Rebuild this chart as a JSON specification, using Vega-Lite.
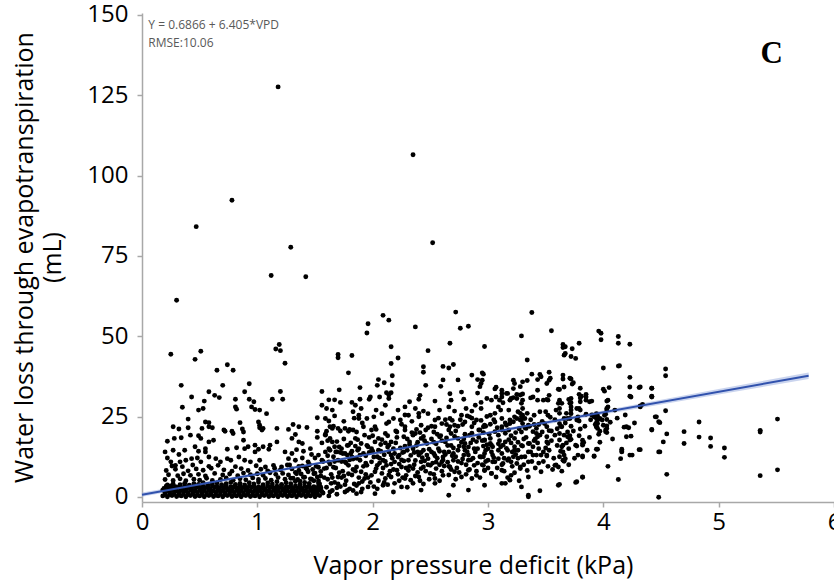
{
  "$schema": "https://vega.github.io/schema/vega-lite/v6.json",
  "width": 692,
  "height": 489,
  "autosize": {"type": "none"},
  "padding": {"left": 142, "top": 13, "right": 0, "bottom": 83},
  "background": "white",
  "config": {
    "view": {"stroke": null},
    "font": "Open Sans",
    "axis": {
      "domainColor": "#a8a8a8", "domainWidth": 1.5,
      "tickColor": "#a8a8a8", "tickWidth": 1.5, "tickSize": 5,
      "grid": false,
      "labelFont": "Open Sans", "labelFontSize": 24, "labelColor": "#000000",
      "labelOverlap": false, "labelFlush": false,
      "titleFont": "Open Sans", "titleFontSize": 25, "titleFontWeight": "normal", "titleColor": "#000000"
    },
    "axisX": {"labelPadding": 3, "titleX": 331, "titleY": 71, "titleAlign": "center", "titleBaseline": "alphabetic"},
    "axisY": {"labelPadding": 9, "titleX": -130, "titleY": 244, "titleAlign": "center", "titleBaseline": "top", "titleAngle": -90, "titleLineHeight": 28}
  },
  "datasets": {
    "band": [
      {"vpd": 0, "lo": 0.05, "hi": 1.32},
      {"vpd": 0.5, "lo": 3.4, "hi": 4.4},
      {"vpd": 1, "lo": 6.65, "hi": 7.53},
      {"vpd": 1.5, "lo": 9.9, "hi": 10.7},
      {"vpd": 2, "lo": 13.1, "hi": 13.9},
      {"vpd": 2.5, "lo": 16.3, "hi": 17.1},
      {"vpd": 3, "lo": 19.45, "hi": 20.35},
      {"vpd": 3.5, "lo": 22.55, "hi": 23.65},
      {"vpd": 4, "lo": 25.6, "hi": 26.9},
      {"vpd": 4.5, "lo": 28.75, "hi": 30.25},
      {"vpd": 5, "lo": 31.85, "hi": 33.6},
      {"vpd": 5.78, "lo": 36.7, "hi": 38.7}
    ],
    "fit": [
      {"vpd": 0, "ml": 0.6866},
      {"vpd": 5.78, "ml": 37.7075}
    ],
    "notes": [
      {"vpd": 0.055, "ml": 146.9, "label": "Y = 0.6866 + 6.405*VPD"},
      {"vpd": 0.055, "ml": 141.3, "label": "RMSE:10.06"}
    ],
    "tag": [
      {"vpd": 5.46, "ml": 137.9, "label": "C"}
    ],
    "pts": [
      {"vpd":1.18,"ml":127.6},{"vpd":2.35,"ml":106.5},{"vpd":0.78,"ml":92.3},{"vpd":0.47,"ml":84.1},{"vpd":1.29,"ml":77.7},{"vpd":2.52,"ml":79.1},{"vpd":0.30,"ml":61.2},{"vpd":1.12,"ml":68.9},{"vpd":1.42,"ml":68.5},
      {"vpd":0.25,"ml":44.4},{"vpd":0.46,"ml":42.8},{"vpd":0.51,"ml":45.3},{"vpd":0.34,"ml":34.7},{"vpd":0.43,"ml":31.1},{"vpd":0.58,"ml":32.7},{"vpd":0.65,"ml":39.4},{"vpd":0.74,"ml":41.1},{"vpd":0.79,"ml":39.4},{"vpd":0.70,"ml":34.7},{"vpd":0.63,"ml":31.6},{"vpd":0.67,"ml":30.9},{"vpd":0.81,"ml":30.4},{"vpd":0.89,"ml":32.7},{"vpd":0.93,"ml":35.2},{"vpd":0.93,"ml":30.4},{"vpd":1.19,"ml":47.4},{"vpd":1.16,"ml":46.0},{"vpd":1.20,"ml":45.5},{"vpd":1.24,"ml":41.6},{"vpd":1.20,"ml":32.8},{"vpd":1.13,"ml":30.4},{"vpd":1.22,"ml":30.4},{"vpd":1.56,"ml":32.8},{"vpd":1.62,"ml":30.2},{"vpd":1.67,"ml":30.2},{"vpd":1.70,"ml":44.3},{"vpd":1.70,"ml":43.3},{"vpd":1.82,"ml":44.0},{"vpd":1.71,"ml":33.3},{"vpd":1.79,"ml":38.6},{"vpd":1.89,"ml":34.0},
      {"vpd":1.95,"ml":51.0},{"vpd":1.96,"ml":53.9},{"vpd":1.97,"ml":30.4},{"vpd":2.05,"ml":36.5},{"vpd":2.04,"ml":34.7},{"vpd":2.10,"ml":35.5},{"vpd":2.06,"ml":31.1},{"vpd":2.09,"ml":56.5},{"vpd":2.14,"ml":55.0},{"vpd":2.16,"ml":46.7},{"vpd":2.22,"ml":43.2},{"vpd":2.16,"ml":41.5},{"vpd":2.17,"ml":37.7},{"vpd":2.17,"ml":34.9},{"vpd":2.12,"ml":32.4},{"vpd":2.16,"ml":32.4},{"vpd":2.14,"ml":31.7},{"vpd":2.37,"ml":52.9},{"vpd":2.48,"ml":45.5},{"vpd":2.44,"ml":40.5},{"vpd":2.44,"ml":38.8},{"vpd":2.46,"ml":34.7},{"vpd":2.41,"ml":31.6},{"vpd":2.61,"ml":40.6},{"vpd":2.66,"ml":40.1},{"vpd":2.70,"ml":41.2},{"vpd":2.67,"ml":47.8},{"vpd":2.72,"ml":57.5},{"vpd":2.76,"ml":52.5},{"vpd":2.83,"ml":53.1},{"vpd":2.61,"ml":36.4},{"vpd":2.59,"ml":34.4},{"vpd":2.67,"ml":32.1},{"vpd":2.74,"ml":36.4},{"vpd":2.86,"ml":37.9},{"vpd":2.91,"ml":36.5},{"vpd":2.77,"ml":32.6},{"vpd":2.91,"ml":32.3},{"vpd":2.97,"ml":46.8},{"vpd":2.95,"ml":38.6},{"vpd":2.95,"ml":36.3},
      {"vpd":3.38,"ml":57.4},{"vpd":3.55,"ml":51.7},{"vpd":3.29,"ml":50.1},{"vpd":3.34,"ml":42.6},{"vpd":3.65,"ml":47.4},{"vpd":3.65,"ml":46.5},{"vpd":3.66,"ml":44.1},{"vpd":3.38,"ml":38.2},{"vpd":3.45,"ml":38.1},{"vpd":3.53,"ml":38.8},{"vpd":3.22,"ml":36.3},{"vpd":3.23,"ml":35.3},{"vpd":3.34,"ml":36.2},{"vpd":3.43,"ml":36.5},{"vpd":3.51,"ml":35.3},{"vpd":3.53,"ml":36.3},{"vpd":3.65,"ml":37.9},{"vpd":3.65,"ml":36.7},{"vpd":3.66,"ml":34.2},{"vpd":3.06,"ml":33.6},{"vpd":3.43,"ml":33.2},{"vpd":3.61,"ml":33.5},{"vpd":3.12,"ml":32.2},{"vpd":3.16,"ml":32.2},{"vpd":3.25,"ml":31.9},{"vpd":3.37,"ml":30.8},{"vpd":3.53,"ml":31.6},
      {"vpd":3.96,"ml":51.6},{"vpd":3.98,"ml":50.9},{"vpd":3.98,"ml":48.9},{"vpd":4.13,"ml":49.9},{"vpd":4.13,"ml":47.8},{"vpd":4.23,"ml":47.5},{"vpd":3.79,"ml":47.8},{"vpd":3.73,"ml":46.1},{"vpd":3.72,"ml":43.7},{"vpd":3.76,"ml":43.1},{"vpd":3.67,"ml":46.7},{"vpd":3.67,"ml":44.6},{"vpd":4.00,"ml":40.1},{"vpd":4.13,"ml":40.7},{"vpd":4.54,"ml":39.8},{"vpd":4.54,"ml":37.7},{"vpd":4.23,"ml":37.2},{"vpd":4.23,"ml":34.2},{"vpd":4.32,"ml":34.2},{"vpd":4.42,"ml":33.8},{"vpd":3.72,"ml":36.7},{"vpd":3.73,"ml":35.1},{"vpd":3.80,"ml":33.8},{"vpd":4.00,"ml":33.5},{"vpd":4.01,"ml":32.9},{"vpd":4.05,"ml":34.0},{"vpd":3.81,"ml":31.3},{"vpd":3.85,"ml":31.9},{"vpd":4.23,"ml":31.3},{"vpd":4.42,"ml":31.3},{"vpd":3.70,"ml":30.3},
      {"vpd":3.71,"ml":36.9},{"vpd":3.74,"ml":35.5},{"vpd":3.62,"ml":33.4},{"vpd":3.30,"ml":35.8},{"vpd":3.28,"ml":34.3},{"vpd":3.22,"ml":33.7},{"vpd":2.96,"ml":38.2},{"vpd":2.94,"ml":35.3},{"vpd":2.93,"ml":34.3},{"vpd":3.07,"ml":34.1},{"vpd":3.12,"ml":33.2},{"vpd":3.17,"ml":32.2},{"vpd":3.28,"ml":31.7},{"vpd":3.30,"ml":32.0},{"vpd":3.07,"ml":31.1},{"vpd":3.39,"ml":31.1},{"vpd":3.79,"ml":31.9},{"vpd":4.31,"ml":34.0},{"vpd":3.54,"ml":36.9},{"vpd":3.46,"ml":37.4},
      {"vpd":0.54,"ml":29.8},{"vpd":0.97,"ml":29.6},{"vpd":1.72,"ml":29.4},{"vpd":1.82,"ml":29.4},{"vpd":1.85,"ml":28.5},{"vpd":0.35,"ml":27.9},{"vpd":0.49,"ml":27.0},{"vpd":0.53,"ml":27.5},{"vpd":0.81,"ml":28.0},{"vpd":0.82,"ml":27.3},{"vpd":0.95,"ml":28.0},{"vpd":0.98,"ml":27.2},{"vpd":1.02,"ml":27.0},{"vpd":1.08,"ml":25.9},{"vpd":1.56,"ml":28.5},{"vpd":1.60,"ml":27.5},{"vpd":1.65,"ml":27.0},{"vpd":1.83,"ml":26.5},{"vpd":1.52,"ml":24.6},{"vpd":1.59,"ml":24.4},{"vpd":1.62,"ml":23.6},{"vpd":1.67,"ml":25.2},{"vpd":1.88,"ml":24.4},{"vpd":0.40,"ml":24.2},{"vpd":0.55,"ml":23.3},{"vpd":0.58,"ml":23.1},{"vpd":0.85,"ml":23.1},{"vpd":1.01,"ml":23.3},{"vpd":1.02,"ml":22.3},{"vpd":1.05,"ml":21.3},{"vpd":1.17,"ml":21.3},{"vpd":1.31,"ml":22.5},{"vpd":1.36,"ml":21.8},{"vpd":1.43,"ml":21.6},{"vpd":1.63,"ml":21.8},{"vpd":1.65,"ml":21.3},
      {"vpd":0.27,"ml":21.8},{"vpd":0.32,"ml":21.1},{"vpd":0.40,"ml":21.5},{"vpd":0.52,"ml":21.3},{"vpd":0.58,"ml":21.8},{"vpd":0.61,"ml":21.5},{"vpd":0.71,"ml":20.8},{"vpd":0.72,"ml":20.4},{"vpd":0.78,"ml":20.4},{"vpd":0.87,"ml":21.1},{"vpd":0.88,"ml":20.2},{"vpd":1.02,"ml":21.5},{"vpd":1.04,"ml":20.8},{"vpd":1.27,"ml":21.0},{"vpd":1.33,"ml":19.4},{"vpd":1.52,"ml":20.4},{"vpd":1.60,"ml":20.4},{"vpd":1.70,"ml":21.3},{"vpd":1.76,"ml":21.3},{"vpd":1.79,"ml":20.4},{"vpd":1.83,"ml":20.8},
      {"vpd":0.22,"ml":17.3},{"vpd":0.28,"ml":18.2},{"vpd":0.34,"ml":18.4},{"vpd":0.42,"ml":19.2},{"vpd":0.49,"ml":19.0},{"vpd":0.51,"ml":18.2},{"vpd":0.58,"ml":17.1},{"vpd":0.62,"ml":17.6},{"vpd":0.79,"ml":19.7},{"vpd":0.88,"ml":17.6},{"vpd":0.92,"ml":15.6},{"vpd":0.98,"ml":16.1},{"vpd":1.05,"ml":15.6},{"vpd":1.11,"ml":16.1},{"vpd":1.17,"ml":17.1},{"vpd":1.30,"ml":18.2},{"vpd":1.36,"ml":17.1},{"vpd":1.39,"ml":16.6},{"vpd":1.59,"ml":19.2},{"vpd":1.63,"ml":18.2},{"vpd":1.65,"ml":17.1},{"vpd":1.67,"ml":15.6},{"vpd":1.73,"ml":15.0},{"vpd":1.79,"ml":16.1},{"vpd":1.85,"ml":18.2},
      {"vpd":0.20,"ml":14.0},{"vpd":0.27,"ml":14.5},{"vpd":0.32,"ml":13.2},{"vpd":0.37,"ml":14.5},{"vpd":0.46,"ml":15.6},{"vpd":0.49,"ml":14.2},{"vpd":0.55,"ml":15.0},{"vpd":0.55,"ml":14.0},{"vpd":0.74,"ml":14.8},{"vpd":0.82,"ml":15.3},{"vpd":0.89,"ml":15.0},{"vpd":0.98,"ml":14.0},{"vpd":1.01,"ml":14.8},{"vpd":1.10,"ml":14.8},{"vpd":1.24,"ml":14.0},{"vpd":1.30,"ml":13.5},{"vpd":1.34,"ml":14.7},{"vpd":1.40,"ml":14.2},{"vpd":1.46,"ml":15.0},{"vpd":1.47,"ml":13.2},{"vpd":1.59,"ml":14.0},{"vpd":1.63,"ml":14.5},{"vpd":1.69,"ml":14.0},{"vpd":1.76,"ml":13.5},{"vpd":1.82,"ml":14.2},{"vpd":1.87,"ml":14.5},
      {"vpd":0.22,"ml":12.1},{"vpd":0.25,"ml":10.9},{"vpd":0.29,"ml":9.8},{"vpd":0.33,"ml":10.9},{"vpd":0.38,"ml":11.4},{"vpd":0.43,"ml":11.9},{"vpd":0.48,"ml":12.1},{"vpd":0.51,"ml":10.9},{"vpd":0.58,"ml":12.4},{"vpd":0.64,"ml":11.9},{"vpd":0.68,"ml":10.9},{"vpd":0.74,"ml":11.9},{"vpd":0.77,"ml":11.4},{"vpd":0.84,"ml":12.4},{"vpd":0.89,"ml":11.4},{"vpd":0.94,"ml":10.9},{"vpd":1.02,"ml":11.4},{"vpd":1.07,"ml":9.3},{"vpd":1.14,"ml":9.8},{"vpd":1.21,"ml":9.3},{"vpd":1.27,"ml":11.9},{"vpd":1.33,"ml":11.4},{"vpd":1.39,"ml":12.1},{"vpd":1.44,"ml":10.9},{"vpd":1.50,"ml":12.1},{"vpd":1.56,"ml":11.4},{"vpd":1.62,"ml":10.9},{"vpd":1.70,"ml":11.4},{"vpd":1.76,"ml":10.9},{"vpd":1.82,"ml":12.4},
      {"vpd":1.89,"ml":30.4},{"vpd":1.98,"ml":31.1},{"vpd":2.14,"ml":30.6},{"vpd":2.32,"ml":29.6},{"vpd":2.40,"ml":30.4},{"vpd":2.54,"ml":29.8},{"vpd":2.68,"ml":30.1},{"vpd":2.79,"ml":30.4},{"vpd":2.89,"ml":28.5},{"vpd":2.94,"ml":29.4},{"vpd":3.12,"ml":31.1},{"vpd":3.20,"ml":30.6},{"vpd":3.29,"ml":29.1},{"vpd":3.52,"ml":30.1},{"vpd":3.61,"ml":29.1},{"vpd":1.90,"ml":27.5},{"vpd":2.03,"ml":27.0},{"vpd":2.11,"ml":28.5},{"vpd":2.22,"ml":27.0},{"vpd":2.28,"ml":28.0},{"vpd":2.37,"ml":27.5},{"vpd":2.44,"ml":26.7},{"vpd":2.58,"ml":27.0},{"vpd":2.66,"ml":28.0},{"vpd":2.71,"ml":26.7},{"vpd":2.81,"ml":27.5},{"vpd":2.86,"ml":26.7},{"vpd":2.94,"ml":27.5},{"vpd":3.09,"ml":28.0},{"vpd":3.18,"ml":27.0},{"vpd":3.26,"ml":26.5},{"vpd":3.30,"ml":27.5},
      {"vpd":1.88,"ml":25.4},{"vpd":1.95,"ml":24.4},{"vpd":2.01,"ml":24.9},{"vpd":2.08,"ml":25.9},{"vpd":2.14,"ml":23.3},{"vpd":2.18,"ml":24.4},{"vpd":2.24,"ml":23.9},{"vpd":2.31,"ml":25.4},{"vpd":2.40,"ml":24.9},{"vpd":2.48,"ml":25.9},{"vpd":2.54,"ml":23.9},{"vpd":2.60,"ml":22.8},{"vpd":2.67,"ml":24.4},{"vpd":2.71,"ml":22.3},{"vpd":2.77,"ml":25.4},{"vpd":2.80,"ml":23.3},{"vpd":2.84,"ml":24.9},{"vpd":2.90,"ml":23.9},{"vpd":2.97,"ml":22.3},{"vpd":3.02,"ml":25.4},{"vpd":3.06,"ml":23.3},{"vpd":3.12,"ml":24.4},{"vpd":3.19,"ml":22.8},{"vpd":3.23,"ml":24.9},{"vpd":3.29,"ml":23.9},{"vpd":3.35,"ml":22.3},{"vpd":3.42,"ml":21.3},{"vpd":3.49,"ml":22.8},{"vpd":3.64,"ml":21.8},{"vpd":3.69,"ml":24.4},{"vpd":1.92,"ml":21.8},{"vpd":2.02,"ml":21.8},{"vpd":2.28,"ml":21.8},{"vpd":2.42,"ml":22.3},{"vpd":2.54,"ml":21.8},{"vpd":2.86,"ml":21.8},{"vpd":3.12,"ml":21.8},
      {"vpd":1.86,"ml":20.2},{"vpd":1.93,"ml":19.2},{"vpd":1.99,"ml":20.8},{"vpd":2.05,"ml":18.2},{"vpd":2.11,"ml":19.7},{"vpd":2.16,"ml":17.1},{"vpd":2.21,"ml":20.2},{"vpd":2.27,"ml":18.7},{"vpd":2.32,"ml":17.1},{"vpd":2.37,"ml":19.7},{"vpd":2.42,"ml":18.2},{"vpd":2.47,"ml":16.6},{"vpd":2.53,"ml":20.2},{"vpd":2.58,"ml":18.7},{"vpd":2.63,"ml":17.1},{"vpd":2.68,"ml":19.7},{"vpd":2.74,"ml":18.2},{"vpd":2.80,"ml":16.6},{"vpd":2.84,"ml":19.2},{"vpd":2.92,"ml":20.8},{"vpd":2.97,"ml":17.6},{"vpd":3.03,"ml":16.1},{"vpd":3.09,"ml":19.2},{"vpd":3.15,"ml":17.1},{"vpd":3.23,"ml":18.2},{"vpd":3.29,"ml":20.2},{"vpd":3.36,"ml":16.6},{"vpd":3.43,"ml":18.7},{"vpd":3.51,"ml":17.1},{"vpd":3.58,"ml":19.2},{"vpd":3.65,"ml":16.1},{"vpd":3.69,"ml":20.2},{"vpd":1.90,"ml":16.6},{"vpd":2.02,"ml":17.1},{"vpd":2.14,"ml":16.1},{"vpd":2.28,"ml":20.8},{"vpd":2.66,"ml":20.8},{"vpd":3.18,"ml":20.8},
      {"vpd":1.88,"ml":15.0},{"vpd":1.92,"ml":13.5},{"vpd":1.96,"ml":15.6},{"vpd":2.01,"ml":12.4},{"vpd":2.05,"ml":14.5},{"vpd":2.09,"ml":11.4},{"vpd":2.14,"ml":14.0},{"vpd":2.18,"ml":15.0},{"vpd":2.22,"ml":12.4},{"vpd":2.27,"ml":14.0},{"vpd":2.31,"ml":11.4},{"vpd":2.35,"ml":15.0},{"vpd":2.40,"ml":13.0},{"vpd":2.44,"ml":14.5},{"vpd":2.48,"ml":11.9},{"vpd":2.53,"ml":13.5},{"vpd":2.57,"ml":15.0},{"vpd":2.61,"ml":12.4},{"vpd":2.66,"ml":14.0},{"vpd":2.70,"ml":11.4},{"vpd":2.74,"ml":14.5},{"vpd":2.79,"ml":13.0},{"vpd":2.83,"ml":11.4},{"vpd":2.89,"ml":14.0},{"vpd":2.94,"ml":12.4},{"vpd":3.00,"ml":15.0},{"vpd":3.06,"ml":10.9},{"vpd":3.12,"ml":13.5},{"vpd":3.18,"ml":11.9},{"vpd":3.23,"ml":14.5},{"vpd":3.29,"ml":12.4},{"vpd":3.35,"ml":10.9},{"vpd":3.42,"ml":13.0},{"vpd":3.51,"ml":13.0},{"vpd":3.58,"ml":9.8},{"vpd":3.67,"ml":11.9},{"vpd":1.89,"ml":11.4},{"vpd":1.99,"ml":10.9},{"vpd":2.19,"ml":10.9},{"vpd":2.42,"ml":10.9},{"vpd":2.60,"ml":10.9},{"vpd":2.80,"ml":14.5},{"vpd":2.97,"ml":13.5},{"vpd":3.20,"ml":10.9},
      {"vpd":1.86,"ml":9.3},{"vpd":1.90,"ml":7.8},{"vpd":1.95,"ml":9.8},{"vpd":1.99,"ml":6.7},{"vpd":2.03,"ml":8.8},{"vpd":2.08,"ml":7.3},{"vpd":2.12,"ml":9.8},{"vpd":2.16,"ml":6.2},{"vpd":2.21,"ml":8.3},{"vpd":2.25,"ml":9.3},{"vpd":2.29,"ml":6.7},{"vpd":2.35,"ml":8.8},{"vpd":2.40,"ml":6.2},{"vpd":2.44,"ml":9.3},{"vpd":2.50,"ml":7.3},{"vpd":2.55,"ml":8.8},{"vpd":2.61,"ml":6.7},{"vpd":2.67,"ml":9.3},{"vpd":2.71,"ml":7.8},{"vpd":2.77,"ml":6.2},{"vpd":2.83,"ml":8.3},{"vpd":2.90,"ml":6.7},{"vpd":2.96,"ml":9.8},{"vpd":3.03,"ml":7.3},{"vpd":3.12,"ml":8.3},{"vpd":3.20,"ml":6.7},{"vpd":3.28,"ml":9.3},{"vpd":3.35,"ml":6.2},{"vpd":3.46,"ml":7.8},{"vpd":3.61,"ml":9.3},{"vpd":1.93,"ml":5.7},{"vpd":2.11,"ml":5.7},{"vpd":2.28,"ml":5.7},{"vpd":2.54,"ml":5.7},{"vpd":2.86,"ml":5.7},
      {"vpd":1.88,"ml":4.2},{"vpd":1.96,"ml":3.1},{"vpd":2.02,"ml":1.0},{"vpd":2.09,"ml":3.6},{"vpd":2.25,"ml":3.1},{"vpd":2.35,"ml":4.2},{"vpd":2.42,"ml":2.1},{"vpd":2.54,"ml":4.2},{"vpd":2.70,"ml":3.6},{"vpd":2.83,"ml":2.1},{"vpd":2.97,"ml":3.6},{"vpd":3.12,"ml":4.2},{"vpd":3.35,"ml":0.5},{"vpd":3.61,"ml":3.6},{"vpd":1.90,"ml":1.5},{"vpd":2.18,"ml":1.5},{"vpd":2.66,"ml":0.5},
      {"vpd":1.87,"ml":17.8},{"vpd":1.91,"ml":23.0},{"vpd":1.94,"ml":12.8},{"vpd":1.97,"ml":18.5},{"vpd":2.00,"ml":14.2},{"vpd":2.03,"ml":21.0},{"vpd":2.06,"ml":10.5},{"vpd":2.07,"ml":16.3},{"vpd":2.10,"ml":13.1},{"vpd":2.13,"ml":19.0},{"vpd":2.15,"ml":8.0},{"vpd":2.17,"ml":12.0},{"vpd":2.20,"ml":16.8},{"vpd":2.23,"ml":10.2},{"vpd":2.25,"ml":22.6},{"vpd":2.26,"ml":13.8},{"vpd":2.29,"ml":9.0},{"vpd":2.30,"ml":18.0},{"vpd":2.33,"ml":12.9},{"vpd":2.34,"ml":23.5},{"vpd":2.36,"ml":10.0},{"vpd":2.38,"ml":16.0},{"vpd":2.39,"ml":7.6},{"vpd":2.41,"ml":20.0},{"vpd":2.43,"ml":12.2},{"vpd":2.45,"ml":17.5},{"vpd":2.46,"ml":8.0},{"vpd":2.49,"ml":14.8},{"vpd":2.51,"ml":22.0},{"vpd":2.52,"ml":10.5},{"vpd":2.55,"ml":16.5},{"vpd":2.56,"ml":12.0},{"vpd":2.59,"ml":19.0},{"vpd":2.60,"ml":8.0},{"vpd":2.62,"ml":14.0},{"vpd":2.64,"ml":22.5},{"vpd":2.65,"ml":10.8},{"vpd":2.68,"ml":16.0},{"vpd":2.69,"ml":12.8},{"vpd":2.72,"ml":20.5},{"vpd":2.73,"ml":9.0},{"vpd":2.75,"ml":15.8},{"vpd":2.76,"ml":24.0},{"vpd":2.78,"ml":11.8},{"vpd":2.80,"ml":19.5},{"vpd":2.82,"ml":14.0},{"vpd":2.84,"ml":8.5},{"vpd":2.85,"ml":16.8},{"vpd":2.87,"ml":12.0},{"vpd":2.88,"ml":23.0},{"vpd":2.91,"ml":15.0},{"vpd":2.92,"ml":18.5},{"vpd":2.95,"ml":10.0},{"vpd":2.96,"ml":20.0},{"vpd":2.98,"ml":14.5},{"vpd":2.99,"ml":25.0},
      {"vpd":1.86,"ml":12.0},{"vpd":1.88,"ml":6.0},{"vpd":1.92,"ml":9.5},{"vpd":1.95,"ml":16.0},{"vpd":1.98,"ml":4.5},{"vpd":2.00,"ml":19.0},{"vpd":2.04,"ml":12.5},{"vpd":2.05,"ml":5.0},{"vpd":2.08,"ml":17.8},{"vpd":2.11,"ml":11.0},{"vpd":2.12,"ml":22.8},{"vpd":2.14,"ml":6.8},{"vpd":2.19,"ml":13.5},{"vpd":2.20,"ml":20.5},{"vpd":2.22,"ml":7.0},{"vpd":2.24,"ml":15.2},{"vpd":2.27,"ml":11.2},{"vpd":2.28,"ml":25.5},{"vpd":2.31,"ml":8.2},{"vpd":2.32,"ml":16.2},{"vpd":2.35,"ml":19.2},{"vpd":2.37,"ml":11.3},{"vpd":2.39,"ml":14.0},{"vpd":2.40,"ml":26.0},{"vpd":2.42,"ml":8.8},{"vpd":2.44,"ml":18.8},{"vpd":2.47,"ml":13.0},{"vpd":2.48,"ml":21.5},{"vpd":2.50,"ml":9.8},{"vpd":2.53,"ml":17.0},{"vpd":2.54,"ml":12.8},{"vpd":2.57,"ml":24.5},{"vpd":2.58,"ml":10.0},{"vpd":2.60,"ml":17.5},{"vpd":2.63,"ml":13.2},{"vpd":2.66,"ml":9.5},{"vpd":2.67,"ml":21.8},{"vpd":2.70,"ml":15.2},{"vpd":2.71,"ml":18.8},{"vpd":2.74,"ml":11.0},{"vpd":2.77,"ml":17.0},{"vpd":2.78,"ml":22.5},{"vpd":2.81,"ml":10.0},{"vpd":2.83,"ml":15.5},{"vpd":2.86,"ml":19.8},{"vpd":2.88,"ml":9.8},{"vpd":2.90,"ml":17.2},{"vpd":2.93,"ml":12.5},{"vpd":2.94,"ml":23.8},{"vpd":2.97,"ml":8.2},{"vpd":2.99,"ml":16.2},
      {"vpd":1.61,"ml":17.5},{"vpd":1.64,"ml":4.2},{"vpd":1.66,"ml":9.2},{"vpd":1.69,"ml":2.8},{"vpd":1.71,"ml":7.5},{"vpd":1.74,"ml":13.5},{"vpd":1.76,"ml":3.8},{"vpd":1.79,"ml":7.2},{"vpd":1.83,"ml":2.0},{"vpd":1.85,"ml":15.8},{"vpd":1.91,"ml":4.8},{"vpd":1.94,"ml":7.0},{"vpd":1.97,"ml":13.8},{"vpd":2.01,"ml":3.2},{"vpd":2.04,"ml":9.8},{"vpd":2.07,"ml":14.2},{"vpd":2.10,"ml":4.5},{"vpd":2.13,"ml":15.5},{"vpd":2.16,"ml":10.2},{"vpd":2.19,"ml":4.2},{"vpd":2.23,"ml":13.0},{"vpd":2.26,"ml":6.0},{"vpd":2.30,"ml":14.5},{"vpd":2.33,"ml":5.2},{"vpd":2.36,"ml":13.8},{"vpd":2.38,"ml":21.0},{"vpd":2.41,"ml":5.0},{"vpd":2.45,"ml":11.2},{"vpd":2.49,"ml":5.5},{"vpd":2.51,"ml":18.0},{"vpd":2.55,"ml":10.8},{"vpd":2.58,"ml":14.2},{"vpd":2.62,"ml":9.6},{"vpd":2.64,"ml":18.3},{"vpd":2.66,"ml":6.8},{"vpd":2.69,"ml":23.8},{"vpd":2.72,"ml":12.5},{"vpd":2.75,"ml":7.6},{"vpd":2.79,"ml":15.6},{"vpd":2.82,"ml":25.2},{"vpd":2.85,"ml":11.5},{"vpd":2.87,"ml":17.8},{"vpd":2.90,"ml":8.0},{"vpd":2.93,"ml":20.8},{"vpd":2.96,"ml":15.8},{"vpd":2.98,"ml":11.0},{"vpd":3.02,"ml":18.2},{"vpd":3.05,"ml":12.2},{"vpd":3.08,"ml":21.5},{"vpd":3.11,"ml":15.6},{"vpd":3.14,"ml":8.0},{"vpd":3.18,"ml":17.8},{"vpd":3.21,"ml":9.5},{"vpd":3.24,"ml":13.2},{"vpd":3.27,"ml":21.2},{"vpd":3.31,"ml":18.0},{"vpd":3.34,"ml":8.2},{"vpd":3.37,"ml":24.0},{"vpd":3.40,"ml":17.5},{"vpd":3.44,"ml":10.5},{"vpd":3.47,"ml":20.2},{"vpd":3.50,"ml":15.2},{"vpd":3.54,"ml":24.8},{"vpd":3.57,"ml":12.0},{"vpd":3.60,"ml":21.2},{"vpd":3.63,"ml":14.2},{"vpd":3.67,"ml":23.0},{"vpd":3.70,"ml":15.0},{"vpd":3.74,"ml":20.5},{"vpd":3.78,"ml":13.0},{"vpd":3.84,"ml":22.0},{"vpd":3.88,"ml":18.5},{"vpd":3.90,"ml":25.5},{"vpd":3.97,"ml":17.0},{"vpd":4.06,"ml":23.2},{"vpd":4.10,"ml":27.0},
      {"vpd":1.52,"ml":18.5},{"vpd":1.55,"ml":3.0},{"vpd":1.58,"ml":6.0},{"vpd":1.60,"ml":9.0},{"vpd":1.63,"ml":1.5},{"vpd":1.67,"ml":11.0},{"vpd":1.70,"ml":4.0},{"vpd":1.72,"ml":13.8},{"vpd":1.75,"ml":6.5},{"vpd":1.78,"ml":2.0},{"vpd":1.80,"ml":11.5},{"vpd":1.83,"ml":8.5},{"vpd":1.86,"ml":3.5},{"vpd":1.89,"ml":13.0},{"vpd":1.91,"ml":2.5},{"vpd":1.94,"ml":10.5},{"vpd":1.96,"ml":6.0},{"vpd":1.99,"ml":15.0},{"vpd":2.02,"ml":7.8},{"vpd":2.04,"ml":2.5},{"vpd":2.06,"ml":12.0},{"vpd":2.09,"ml":9.0},{"vpd":2.11,"ml":16.8},{"vpd":2.13,"ml":3.8},{"vpd":2.16,"ml":13.0},{"vpd":2.18,"ml":8.5},{"vpd":2.21,"ml":18.5},{"vpd":2.23,"ml":5.0},{"vpd":2.25,"ml":11.5},{"vpd":2.28,"ml":15.8},{"vpd":2.30,"ml":3.0},{"vpd":2.32,"ml":9.5},{"vpd":2.34,"ml":20.0},{"vpd":2.37,"ml":6.5},{"vpd":2.39,"ml":17.0},{"vpd":2.42,"ml":13.8},{"vpd":2.44,"ml":4.0},{"vpd":2.46,"ml":20.8},{"vpd":2.48,"ml":10.0},{"vpd":2.51,"ml":14.0},{"vpd":2.53,"ml":7.0},{"vpd":2.56,"ml":19.5},{"vpd":2.58,"ml":5.0},{"vpd":2.61,"ml":11.5},{"vpd":2.63,"ml":24.0},{"vpd":2.65,"ml":16.0},{"vpd":2.68,"ml":8.5},{"vpd":2.70,"ml":13.5},{"vpd":2.72,"ml":5.5},{"vpd":2.74,"ml":22.0},{"vpd":2.77,"ml":10.5},{"vpd":2.79,"ml":18.0},{"vpd":2.81,"ml":7.0},{"vpd":2.83,"ml":13.0},{"vpd":2.86,"ml":24.5},{"vpd":2.88,"ml":15.0},{"vpd":2.91,"ml":10.5},{"vpd":2.93,"ml":6.0},{"vpd":2.95,"ml":17.5},{"vpd":2.98,"ml":22.0},{"vpd":3.00,"ml":9.0},{"vpd":3.03,"ml":14.0},{"vpd":3.06,"ml":26.0},{"vpd":3.09,"ml":16.5},{"vpd":3.12,"ml":10.0},{"vpd":3.15,"ml":23.0},{"vpd":3.17,"ml":14.5},{"vpd":3.20,"ml":19.0},{"vpd":3.23,"ml":7.5},{"vpd":3.26,"ml":12.0},{"vpd":3.29,"ml":16.0},{"vpd":3.32,"ml":21.5},{"vpd":3.35,"ml":14.0},{"vpd":3.38,"ml":11.0},{"vpd":3.41,"ml":18.0},{"vpd":3.44,"ml":22.5},{"vpd":3.48,"ml":14.0},{"vpd":3.52,"ml":9.5},{"vpd":3.55,"ml":17.5},{"vpd":3.59,"ml":27.0},{"vpd":3.62,"ml":22.8},{"vpd":3.64,"ml":8.0},{"vpd":3.68,"ml":16.8},{"vpd":3.72,"ml":22.0},{"vpd":3.75,"ml":12.0},{"vpd":3.79,"ml":19.0},{"vpd":3.86,"ml":14.5},{"vpd":3.89,"ml":24.0},{"vpd":3.96,"ml":19.5},{"vpd":4.08,"ml":18.0},{"vpd":4.12,"ml":24.5},{"vpd":4.19,"ml":25.5},{"vpd":4.27,"ml":23.0},
      {"vpd":1.50,"ml":0.5},{"vpd":1.52,"ml":2.2},{"vpd":1.54,"ml":4.0},{"vpd":1.55,"ml":6.5},{"vpd":1.57,"ml":1.2},{"vpd":1.58,"ml":8.8},{"vpd":1.60,"ml":3.0},{"vpd":1.61,"ml":5.5},{"vpd":1.62,"ml":0.3},{"vpd":1.63,"ml":10.2},{"vpd":1.64,"ml":7.0},{"vpd":1.65,"ml":2.0},{"vpd":1.66,"ml":12.5},{"vpd":1.67,"ml":4.5},{"vpd":1.68,"ml":9.0},{"vpd":1.69,"ml":0.8},{"vpd":1.70,"ml":6.2},{"vpd":1.71,"ml":15.5},{"vpd":1.72,"ml":3.2},{"vpd":1.73,"ml":11.0},{"vpd":1.74,"ml":8.0},{"vpd":1.75,"ml":18.0},{"vpd":1.76,"ml":1.5},{"vpd":1.77,"ml":5.0},{"vpd":1.78,"ml":13.0},{"vpd":1.79,"ml":9.8},{"vpd":1.80,"ml":2.5},{"vpd":1.81,"ml":16.8},{"vpd":1.82,"ml":6.8},{"vpd":1.83,"ml":11.8},{"vpd":1.84,"ml":4.0},{"vpd":1.85,"ml":8.0},{"vpd":1.86,"ml":1.0},{"vpd":1.53,"ml":13.0},{"vpd":1.56,"ml":16.8},{"vpd":1.59,"ml":19.5},{"vpd":1.62,"ml":15.0},{"vpd":1.66,"ml":22.0},{"vpd":1.69,"ml":17.2},{"vpd":1.72,"ml":20.5},{"vpd":1.75,"ml":23.5},{"vpd":1.78,"ml":16.0},{"vpd":1.80,"ml":21.0},{"vpd":1.84,"ml":24.5},{"vpd":1.51,"ml":9.5},{"vpd":1.57,"ml":11.0},{"vpd":1.61,"ml":12.8},{"vpd":1.65,"ml":6.0},{"vpd":1.68,"ml":14.0},{"vpd":1.73,"ml":6.0},{"vpd":1.77,"ml":10.5},{"vpd":1.81,"ml":13.5},
      {"vpd":3.01,"ml":19.5},{"vpd":3.04,"ml":13.0},{"vpd":3.05,"ml":24.0},{"vpd":3.08,"ml":9.0},{"vpd":3.10,"ml":17.5},{"vpd":3.11,"ml":27.0},{"vpd":3.14,"ml":12.0},{"vpd":3.15,"ml":19.8},{"vpd":3.17,"ml":6.0},{"vpd":3.21,"ml":14.0},{"vpd":3.24,"ml":20.0},{"vpd":3.26,"ml":17.0},{"vpd":3.27,"ml":5.0},{"vpd":3.31,"ml":10.0},{"vpd":3.33,"ml":18.5},{"vpd":3.34,"ml":26.0},{"vpd":3.37,"ml":14.0},{"vpd":3.40,"ml":22.5},{"vpd":3.41,"ml":9.0},{"vpd":3.44,"ml":15.0},{"vpd":3.47,"ml":23.5},{"vpd":3.48,"ml":11.0},{"vpd":3.50,"ml":26.5},{"vpd":3.53,"ml":14.5},{"vpd":3.55,"ml":20.5},{"vpd":3.56,"ml":8.5},{"vpd":3.58,"ml":24.0},{"vpd":3.60,"ml":16.0},{"vpd":3.63,"ml":22.0},{"vpd":3.66,"ml":13.0},{"vpd":3.68,"ml":26.0},{"vpd":3.70,"ml":10.0},
      {"vpd":2.96,"ml":21.8},{"vpd":3.02,"ml":22.6},{"vpd":3.06,"ml":20.3},{"vpd":3.12,"ml":20.8},{"vpd":3.16,"ml":22.3},{"vpd":3.19,"ml":23.9},{"vpd":3.22,"ml":23.4},{"vpd":3.25,"ml":24.4},{"vpd":3.28,"ml":23.9},{"vpd":3.29,"ml":24.9},{"vpd":3.30,"ml":22.8},{"vpd":3.33,"ml":21.3},{"vpd":3.36,"ml":22.0},{"vpd":2.97,"ml":17.7},{"vpd":3.02,"ml":16.6},{"vpd":3.04,"ml":15.6},{"vpd":3.09,"ml":14.5},{"vpd":3.13,"ml":16.1},{"vpd":3.16,"ml":15.1},{"vpd":3.20,"ml":16.8},{"vpd":3.23,"ml":15.6},{"vpd":3.26,"ml":14.5},{"vpd":3.30,"ml":15.8},{"vpd":3.35,"ml":16.6},{"vpd":3.39,"ml":15.6},{"vpd":3.43,"ml":16.8},{"vpd":2.96,"ml":12.5},{"vpd":3.00,"ml":11.4},{"vpd":3.04,"ml":10.9},{"vpd":3.09,"ml":11.9},{"vpd":3.13,"ml":10.4},{"vpd":3.17,"ml":11.4},{"vpd":3.22,"ml":12.5},{"vpd":3.25,"ml":10.4},{"vpd":3.28,"ml":8.8},{"vpd":3.32,"ml":12.5},{"vpd":3.39,"ml":13.0},{"vpd":3.46,"ml":13.0},{"vpd":3.51,"ml":12.7},{"vpd":2.97,"ml":8.3},{"vpd":3.03,"ml":7.3},{"vpd":3.07,"ml":6.2},{"vpd":3.15,"ml":4.2},{"vpd":3.19,"ml":5.2},{"vpd":3.29,"ml":3.1},{"vpd":3.35,"ml":0.0},{"vpd":3.45,"ml":1.9},{"vpd":3.62,"ml":3.9},{"vpd":3.77,"ml":4.7},{"vpd":3.82,"ml":6.2},
      {"vpd":3.51,"ml":18.7},{"vpd":3.52,"ml":16.6},{"vpd":3.62,"ml":19.7},{"vpd":3.62,"ml":17.7},{"vpd":3.64,"ml":15.6},{"vpd":3.65,"ml":14.0},{"vpd":3.62,"ml":12.5},{"vpd":3.65,"ml":11.4},{"vpd":3.59,"ml":9.9},{"vpd":3.69,"ml":18.7},{"vpd":3.71,"ml":17.7},{"vpd":3.77,"ml":15.8},{"vpd":3.82,"ml":16.6},{"vpd":3.82,"ml":12.7},{"vpd":3.92,"ml":12.7},{"vpd":3.94,"ml":14.8},{"vpd":3.94,"ml":21.8},{"vpd":3.95,"ml":22.8},{"vpd":4.03,"ml":21.3},{"vpd":4.02,"ml":20.3},{"vpd":3.99,"ml":23.9},{"vpd":3.51,"ml":21.8},{"vpd":3.53,"ml":20.6},{"vpd":3.45,"ml":19.2},{"vpd":3.42,"ml":19.7},{"vpd":3.39,"ml":20.3},
      {"vpd":2.99,"ml":30.6},{"vpd":3.03,"ml":30.1},{"vpd":3.10,"ml":30.1},{"vpd":3.13,"ml":29.3},{"vpd":3.19,"ml":30.1},{"vpd":3.22,"ml":30.9},{"vpd":3.25,"ml":30.6},{"vpd":3.30,"ml":30.1},{"vpd":3.43,"ml":30.1},{"vpd":3.48,"ml":30.1},{"vpd":3.51,"ml":30.3},{"vpd":3.28,"ml":26.0},{"vpd":3.30,"ml":25.4},{"vpd":3.32,"ml":24.4},{"vpd":3.40,"ml":25.4},{"vpd":3.45,"ml":26.5},
      {"vpd":3.62,"ml":30.1},{"vpd":3.64,"ml":29.1},{"vpd":3.62,"ml":27.5},{"vpd":3.71,"ml":29.1},{"vpd":3.72,"ml":28.0},{"vpd":3.77,"ml":27.5},{"vpd":3.80,"ml":27.0},{"vpd":3.85,"ml":30.1},{"vpd":3.88,"ml":29.6},{"vpd":3.52,"ml":25.4},{"vpd":3.62,"ml":26.0},{"vpd":3.71,"ml":24.4},{"vpd":3.78,"ml":24.9},{"vpd":3.91,"ml":25.4},{"vpd":3.92,"ml":24.9},{"vpd":3.95,"ml":23.9},{"vpd":3.97,"ml":24.4},{"vpd":4.01,"ml":25.4},{"vpd":4.03,"ml":24.1},{"vpd":4.00,"ml":22.3},{"vpd":4.02,"ml":20.8},{"vpd":4.04,"ml":28.0},{"vpd":4.04,"ml":30.1},{"vpd":4.20,"ml":21.8},{"vpd":4.20,"ml":18.7},{"vpd":4.32,"ml":28.3},{"vpd":4.42,"ml":33.8},{"vpd":4.42,"ml":31.2},{"vpd":4.45,"ml":24.9},{"vpd":4.48,"ml":23.4},{"vpd":4.42,"ml":21.0},{"vpd":4.52,"ml":17.1},{"vpd":4.49,"ml":14.0},{"vpd":4.23,"ml":13.0},{"vpd":4.16,"ml":14.3},{"vpd":4.31,"ml":14.7},{"vpd":4.14,"ml":40.8},
      {"vpd":3.72,"ml":30.6},{"vpd":3.72,"ml":29.3},{"vpd":3.80,"ml":30.8},{"vpd":3.80,"ml":29.6},{"vpd":3.85,"ml":31.1},{"vpd":3.90,"ml":29.8},{"vpd":4.03,"ml":29.8},{"vpd":4.24,"ml":31.1},{"vpd":4.42,"ml":31.1},{"vpd":3.72,"ml":27.0},{"vpd":3.72,"ml":25.9},{"vpd":3.79,"ml":27.5},{"vpd":3.85,"ml":25.7},{"vpd":3.94,"ml":25.9},{"vpd":3.95,"ml":25.2},{"vpd":4.03,"ml":27.5},{"vpd":4.02,"ml":25.7},{"vpd":4.03,"ml":27.0},{"vpd":4.32,"ml":28.0},{"vpd":4.34,"ml":28.8},{"vpd":4.46,"ml":24.9},{"vpd":4.49,"ml":23.1},{"vpd":4.54,"ml":26.8},{"vpd":3.66,"ml":24.4},{"vpd":3.77,"ml":23.9},{"vpd":3.79,"ml":23.6},{"vpd":3.94,"ml":24.4},{"vpd":3.94,"ml":23.1},{"vpd":3.95,"ml":21.3},{"vpd":3.97,"ml":20.4},{"vpd":4.03,"ml":22.1},{"vpd":4.03,"ml":20.0},{"vpd":3.94,"ml":21.8},{"vpd":3.93,"ml":22.5},{"vpd":3.80,"ml":21.1},{"vpd":4.18,"ml":21.7},{"vpd":4.22,"ml":21.5},{"vpd":4.24,"ml":18.9},{"vpd":4.42,"ml":20.8},{"vpd":4.55,"ml":19.6},{"vpd":3.66,"ml":19.2},{"vpd":3.71,"ml":19.0},{"vpd":3.72,"ml":17.9},{"vpd":3.76,"ml":16.1},{"vpd":3.82,"ml":17.6},{"vpd":3.82,"ml":16.1},{"vpd":3.83,"ml":16.9},{"vpd":3.95,"ml":14.8},{"vpd":3.92,"ml":12.6},{"vpd":3.82,"ml":12.4},{"vpd":4.16,"ml":14.8},{"vpd":4.16,"ml":14.0},{"vpd":4.15,"ml":11.9},{"vpd":4.25,"ml":13.0},{"vpd":4.32,"ml":14.7},{"vpd":4.48,"ml":14.0},{"vpd":4.04,"ml":9.5},{"vpd":3.66,"ml":11.1},{"vpd":4.55,"ml":7.0},{"vpd":4.13,"ml":5.4},{"vpd":3.82,"ml":6.1},{"vpd":3.76,"ml":4.5},{"vpd":4.48,"ml":-0.1},
      {"vpd":4.70,"ml":20.3},{"vpd":4.70,"ml":16.6},{"vpd":4.83,"ml":23.3},{"vpd":4.83,"ml":18.6},{"vpd":4.93,"ml":18.3},{"vpd":4.93,"ml":15.7},{"vpd":5.05,"ml":15.2},{"vpd":5.05,"ml":12.3},{"vpd":5.36,"ml":20.7},{"vpd":5.36,"ml":20.2},{"vpd":5.51,"ml":24.2},{"vpd":5.51,"ml":8.4},{"vpd":5.36,"ml":6.6},
      {"vpd":0.18,"ml":0.3},{"vpd":0.22,"ml":0.0},{"vpd":0.26,"ml":0.4},{"vpd":0.30,"ml":0.1},{"vpd":0.34,"ml":0.3},{"vpd":0.38,"ml":0.0},{"vpd":0.42,"ml":0.4},{"vpd":0.46,"ml":0.1},{"vpd":0.50,"ml":0.3},{"vpd":0.54,"ml":0.0},{"vpd":0.58,"ml":0.4},{"vpd":0.62,"ml":0.1},{"vpd":0.66,"ml":0.3},{"vpd":0.70,"ml":0.0},{"vpd":0.74,"ml":0.4},{"vpd":0.78,"ml":0.1},{"vpd":0.82,"ml":0.3},{"vpd":0.86,"ml":0.0},{"vpd":0.90,"ml":0.4},{"vpd":0.94,"ml":0.1},{"vpd":0.98,"ml":0.3},{"vpd":1.02,"ml":0.0},{"vpd":1.06,"ml":0.4},{"vpd":1.10,"ml":0.1},{"vpd":1.14,"ml":0.3},{"vpd":1.18,"ml":0.0},{"vpd":1.22,"ml":0.4},{"vpd":1.26,"ml":0.1},{"vpd":1.30,"ml":0.3},{"vpd":1.34,"ml":0.0},{"vpd":1.38,"ml":0.4},{"vpd":1.42,"ml":0.1},{"vpd":1.46,"ml":0.3},{"vpd":1.50,"ml":0.0},{"vpd":1.54,"ml":0.4},
      {"vpd":0.20,"ml":0.8},{"vpd":0.24,"ml":0.7},{"vpd":0.28,"ml":0.9},{"vpd":0.32,"ml":0.6},{"vpd":0.36,"ml":0.8},{"vpd":0.40,"ml":0.7},{"vpd":0.44,"ml":0.9},{"vpd":0.48,"ml":0.6},{"vpd":0.52,"ml":0.8},{"vpd":0.56,"ml":0.7},{"vpd":0.60,"ml":0.9},{"vpd":0.64,"ml":0.6},{"vpd":0.68,"ml":0.8},{"vpd":0.72,"ml":0.7},{"vpd":0.76,"ml":0.9},{"vpd":0.80,"ml":0.6},{"vpd":0.84,"ml":0.8},{"vpd":0.88,"ml":0.7},{"vpd":0.92,"ml":0.9},{"vpd":0.96,"ml":0.6},{"vpd":1.00,"ml":0.8},{"vpd":1.04,"ml":0.7},{"vpd":1.08,"ml":0.9},{"vpd":1.12,"ml":0.6},{"vpd":1.16,"ml":0.8},{"vpd":1.20,"ml":0.7},{"vpd":1.24,"ml":0.9},{"vpd":1.28,"ml":0.6},{"vpd":1.32,"ml":0.8},{"vpd":1.36,"ml":0.7},{"vpd":1.40,"ml":0.9},{"vpd":1.44,"ml":0.6},{"vpd":1.48,"ml":0.8},{"vpd":1.52,"ml":0.7},
      {"vpd":0.20,"ml":1.5},{"vpd":0.24,"ml":1.3},{"vpd":0.28,"ml":1.6},{"vpd":0.32,"ml":1.4},{"vpd":0.36,"ml":1.5},{"vpd":0.40,"ml":1.3},{"vpd":0.44,"ml":1.6},{"vpd":0.48,"ml":1.4},{"vpd":0.52,"ml":1.5},{"vpd":0.56,"ml":1.3},{"vpd":0.60,"ml":1.6},{"vpd":0.64,"ml":1.4},{"vpd":0.68,"ml":1.5},{"vpd":0.72,"ml":1.3},{"vpd":0.76,"ml":1.6},{"vpd":0.80,"ml":1.4},{"vpd":0.84,"ml":1.5},{"vpd":0.88,"ml":1.3},{"vpd":0.92,"ml":1.6},{"vpd":0.96,"ml":1.4},{"vpd":1.00,"ml":1.5},{"vpd":1.04,"ml":1.3},{"vpd":1.08,"ml":1.6},{"vpd":1.12,"ml":1.4},{"vpd":1.16,"ml":1.5},{"vpd":1.20,"ml":1.3},{"vpd":1.24,"ml":1.6},{"vpd":1.28,"ml":1.4},{"vpd":1.32,"ml":1.5},{"vpd":1.36,"ml":1.3},{"vpd":1.40,"ml":1.6},{"vpd":1.44,"ml":1.4},{"vpd":1.48,"ml":1.5},{"vpd":1.52,"ml":1.3},{"vpd":1.56,"ml":1.6},
      {"vpd":0.18,"ml":2.1},{"vpd":0.22,"ml":2.0},{"vpd":0.26,"ml":2.2},{"vpd":0.30,"ml":1.9},{"vpd":0.34,"ml":2.1},{"vpd":0.38,"ml":2.0},{"vpd":0.42,"ml":2.2},{"vpd":0.46,"ml":1.9},{"vpd":0.50,"ml":2.1},{"vpd":0.54,"ml":2.0},{"vpd":0.58,"ml":2.2},{"vpd":0.62,"ml":1.9},{"vpd":0.66,"ml":2.1},{"vpd":0.70,"ml":2.0},{"vpd":0.74,"ml":2.2},{"vpd":0.78,"ml":1.9},{"vpd":0.82,"ml":2.1},{"vpd":0.86,"ml":2.0},{"vpd":0.90,"ml":2.2},{"vpd":0.94,"ml":1.9},{"vpd":0.98,"ml":2.1},{"vpd":1.02,"ml":2.0},{"vpd":1.06,"ml":2.2},{"vpd":1.10,"ml":1.9},{"vpd":1.14,"ml":2.1},{"vpd":1.18,"ml":2.0},{"vpd":1.22,"ml":2.2},{"vpd":1.26,"ml":1.9},{"vpd":1.30,"ml":2.1},{"vpd":1.34,"ml":2.0},{"vpd":1.38,"ml":2.2},{"vpd":1.42,"ml":1.9},{"vpd":1.46,"ml":2.1},{"vpd":1.50,"ml":2.0},{"vpd":1.54,"ml":2.2},
      {"vpd":0.19,"ml":2.6},{"vpd":0.23,"ml":2.8},{"vpd":0.27,"ml":2.5},{"vpd":0.31,"ml":2.9},{"vpd":0.35,"ml":2.6},{"vpd":0.39,"ml":2.8},{"vpd":0.43,"ml":2.5},{"vpd":0.47,"ml":2.9},{"vpd":0.51,"ml":2.6},{"vpd":0.55,"ml":2.8},{"vpd":0.59,"ml":2.5},{"vpd":0.63,"ml":2.9},{"vpd":0.67,"ml":2.6},{"vpd":0.71,"ml":2.8},{"vpd":0.75,"ml":2.5},{"vpd":0.79,"ml":2.9},{"vpd":0.83,"ml":2.6},{"vpd":0.87,"ml":2.8},{"vpd":0.91,"ml":2.5},{"vpd":0.95,"ml":2.9},{"vpd":0.99,"ml":2.6},{"vpd":1.03,"ml":2.8},{"vpd":1.07,"ml":2.5},{"vpd":1.11,"ml":2.9},{"vpd":1.15,"ml":2.6},{"vpd":1.19,"ml":2.8},{"vpd":1.23,"ml":2.5},{"vpd":1.27,"ml":2.9},{"vpd":1.31,"ml":2.6},{"vpd":1.35,"ml":2.8},{"vpd":1.39,"ml":2.5},{"vpd":1.43,"ml":2.9},{"vpd":1.47,"ml":2.6},{"vpd":1.51,"ml":2.8},{"vpd":1.55,"ml":2.5},
      {"vpd":0.21,"ml":3.3},{"vpd":0.25,"ml":3.4},{"vpd":0.29,"ml":3.2},{"vpd":0.33,"ml":3.3},{"vpd":0.37,"ml":3.4},{"vpd":0.41,"ml":3.2},{"vpd":0.45,"ml":3.3},{"vpd":0.49,"ml":3.4},{"vpd":0.53,"ml":3.2},{"vpd":0.57,"ml":3.3},{"vpd":0.61,"ml":3.4},{"vpd":0.65,"ml":3.2},{"vpd":0.69,"ml":3.3},{"vpd":0.73,"ml":3.4},{"vpd":0.77,"ml":3.2},{"vpd":0.81,"ml":3.3},{"vpd":0.85,"ml":3.4},{"vpd":0.89,"ml":3.2},{"vpd":0.93,"ml":3.3},{"vpd":0.97,"ml":3.4},{"vpd":1.01,"ml":3.2},{"vpd":1.05,"ml":3.3},{"vpd":1.09,"ml":3.4},{"vpd":1.13,"ml":3.2},{"vpd":1.17,"ml":3.3},{"vpd":1.21,"ml":3.4},{"vpd":1.25,"ml":3.2},{"vpd":1.29,"ml":3.3},{"vpd":1.33,"ml":3.4},{"vpd":1.37,"ml":3.2},{"vpd":1.41,"ml":3.3},{"vpd":1.45,"ml":3.4},{"vpd":1.49,"ml":3.2},{"vpd":1.53,"ml":3.3},
      {"vpd":0.22,"ml":3.7},{"vpd":0.27,"ml":4.0},{"vpd":0.33,"ml":3.8},{"vpd":0.37,"ml":4.2},{"vpd":0.41,"ml":3.6},{"vpd":0.45,"ml":4.1},{"vpd":0.49,"ml":3.9},{"vpd":0.53,"ml":4.4},{"vpd":0.57,"ml":3.7},{"vpd":0.61,"ml":4.0},{"vpd":0.65,"ml":4.3},{"vpd":0.69,"ml":3.8},{"vpd":0.73,"ml":4.1},{"vpd":0.77,"ml":4.5},{"vpd":0.81,"ml":3.9},{"vpd":0.85,"ml":4.2},{"vpd":0.89,"ml":3.7},{"vpd":0.93,"ml":4.4},{"vpd":0.97,"ml":4.0},{"vpd":1.01,"ml":4.6},{"vpd":1.05,"ml":3.8},{"vpd":1.09,"ml":4.3},{"vpd":1.13,"ml":4.0},{"vpd":1.17,"ml":4.7},{"vpd":1.21,"ml":3.9},{"vpd":1.25,"ml":4.4},{"vpd":1.29,"ml":4.1},{"vpd":1.33,"ml":4.8},{"vpd":1.37,"ml":3.9},{"vpd":1.41,"ml":4.5},{"vpd":1.45,"ml":4.2},{"vpd":1.49,"ml":5.0},{"vpd":1.53,"ml":4.3},
      {"vpd":0.20,"ml":5.4},{"vpd":0.27,"ml":5.1},{"vpd":0.33,"ml":5.6},{"vpd":0.38,"ml":5.0},{"vpd":0.45,"ml":5.5},{"vpd":0.50,"ml":5.2},{"vpd":0.56,"ml":5.8},{"vpd":0.61,"ml":5.1},{"vpd":0.68,"ml":5.4},{"vpd":0.73,"ml":5.9},{"vpd":0.79,"ml":5.2},{"vpd":0.85,"ml":5.6},{"vpd":0.90,"ml":5.3},{"vpd":0.96,"ml":5.9},{"vpd":1.01,"ml":5.4},{"vpd":1.07,"ml":5.7},{"vpd":1.12,"ml":5.2},{"vpd":1.18,"ml":6.0},{"vpd":1.24,"ml":5.5},{"vpd":1.29,"ml":5.8},{"vpd":1.35,"ml":5.4},{"vpd":1.40,"ml":6.1},{"vpd":1.46,"ml":5.6},{"vpd":1.52,"ml":6.2},
      {"vpd":0.23,"ml":6.9},{"vpd":0.31,"ml":6.6},{"vpd":0.36,"ml":7.2},{"vpd":0.42,"ml":6.7},{"vpd":0.49,"ml":7.0},{"vpd":0.55,"ml":6.5},{"vpd":0.63,"ml":7.3},{"vpd":0.70,"ml":6.8},{"vpd":0.76,"ml":7.1},{"vpd":0.83,"ml":6.6},{"vpd":0.88,"ml":7.4},{"vpd":0.94,"ml":6.9},{"vpd":1.00,"ml":7.2},{"vpd":1.05,"ml":6.7},{"vpd":1.11,"ml":7.5},{"vpd":1.16,"ml":7.0},{"vpd":1.22,"ml":7.3},{"vpd":1.27,"ml":6.8},{"vpd":1.33,"ml":7.6},{"vpd":1.38,"ml":7.1},{"vpd":1.44,"ml":7.8},{"vpd":1.49,"ml":7.2},{"vpd":1.55,"ml":7.9},
      {"vpd":0.21,"ml":8.2},{"vpd":0.29,"ml":8.6},{"vpd":0.40,"ml":8.1},{"vpd":0.47,"ml":8.7},{"vpd":0.53,"ml":8.3},{"vpd":0.60,"ml":8.9},{"vpd":0.71,"ml":8.4},{"vpd":0.78,"ml":8.0},{"vpd":0.86,"ml":8.8},{"vpd":0.92,"ml":8.2},{"vpd":1.03,"ml":8.6},{"vpd":1.09,"ml":8.1},{"vpd":1.15,"ml":8.9},{"vpd":1.20,"ml":8.4},{"vpd":1.30,"ml":8.7},{"vpd":1.36,"ml":8.2},{"vpd":1.42,"ml":9.0},{"vpd":1.48,"ml":8.5},{"vpd":1.53,"ml":9.2},
      {"vpd":0.26,"ml":9.6},{"vpd":0.35,"ml":9.4},{"vpd":0.44,"ml":9.9},{"vpd":0.58,"ml":9.5},{"vpd":0.66,"ml":9.8},{"vpd":0.81,"ml":9.4},{"vpd":0.99,"ml":9.7},{"vpd":1.26,"ml":9.9},{"vpd":1.39,"ml":9.6},{"vpd":1.45,"ml":10.1},
      {"vpd":1.31,"ml":5.8},{"vpd":1.34,"ml":7.2},{"vpd":1.37,"ml":4.9},{"vpd":1.41,"ml":6.1},{"vpd":1.43,"ml":8.6},{"vpd":1.47,"ml":5.5},{"vpd":1.50,"ml":7.4},{"vpd":1.53,"ml":5.0},{"vpd":1.45,"ml":10.0},{"vpd":1.36,"ml":9.5},{"vpd":1.28,"ml":9.9}
    ]
  },
  "layer": [
    {
      "data": {"name": "band"},
      "mark": {"type": "area", "color": "#9fb0e0", "opacity": 0.55},
      "encoding": {
        "x": {"field": "vpd", "type": "quantitative", "title": "Vapor pressure deficit (kPa)", "scale": {"domain": [0, 6], "nice": false, "zero": false}, "axis": {"values": [0, 1, 2, 3, 4, 5, 6], "format": "d"}},
        "y": {"field": "lo", "type": "quantitative", "title": ["Water loss through evapotranspiration", "(mL)"], "scale": {"domain": [-1.6, 150.6], "nice": false, "zero": false}, "axis": {"values": [0, 25, 50, 75, 100, 125, 150], "format": "d"}},
        "y2": {"field": "hi"}
      }
    },
    {
      "data": {"name": "pts"},
      "mark": {"type": "circle", "size": 24, "color": "#000000", "opacity": 1},
      "encoding": {
        "x": {"field": "vpd", "type": "quantitative", "title": "Vapor pressure deficit (kPa)"},
        "y": {"field": "ml", "type": "quantitative", "title": ["Water loss through evapotranspiration", "(mL)"]}
      }
    },
    {
      "data": {"name": "fit"},
      "mark": {"type": "line", "color": "#3152ad", "strokeWidth": 2},
      "encoding": {
        "x": {"field": "vpd", "type": "quantitative", "title": "Vapor pressure deficit (kPa)"},
        "y": {"field": "ml", "type": "quantitative", "title": ["Water loss through evapotranspiration", "(mL)"]}
      }
    },
    {
      "mark": {"type": "rule", "color": "#a8a8a8", "strokeWidth": 1.5},
      "encoding": {"y": {"datum": 150.6}}
    },
    {
      "data": {"name": "notes"},
      "mark": {"type": "text", "align": "left", "baseline": "middle", "font": "Open Sans", "fontSize": 12, "color": "#595959"},
      "encoding": {
        "x": {"field": "vpd", "type": "quantitative", "title": "Vapor pressure deficit (kPa)"},
        "y": {"field": "ml", "type": "quantitative", "title": ["Water loss through evapotranspiration", "(mL)"]},
        "text": {"field": "label"}
      }
    },
    {
      "data": {"name": "tag"},
      "mark": {"type": "text", "align": "center", "baseline": "middle", "font": "Liberation Serif", "fontWeight": "bold", "fontSize": 31, "color": "#000000"},
      "encoding": {
        "x": {"field": "vpd", "type": "quantitative", "title": "Vapor pressure deficit (kPa)"},
        "y": {"field": "ml", "type": "quantitative", "title": ["Water loss through evapotranspiration", "(mL)"]},
        "text": {"field": "label"}
      }
    }
  ]
}
